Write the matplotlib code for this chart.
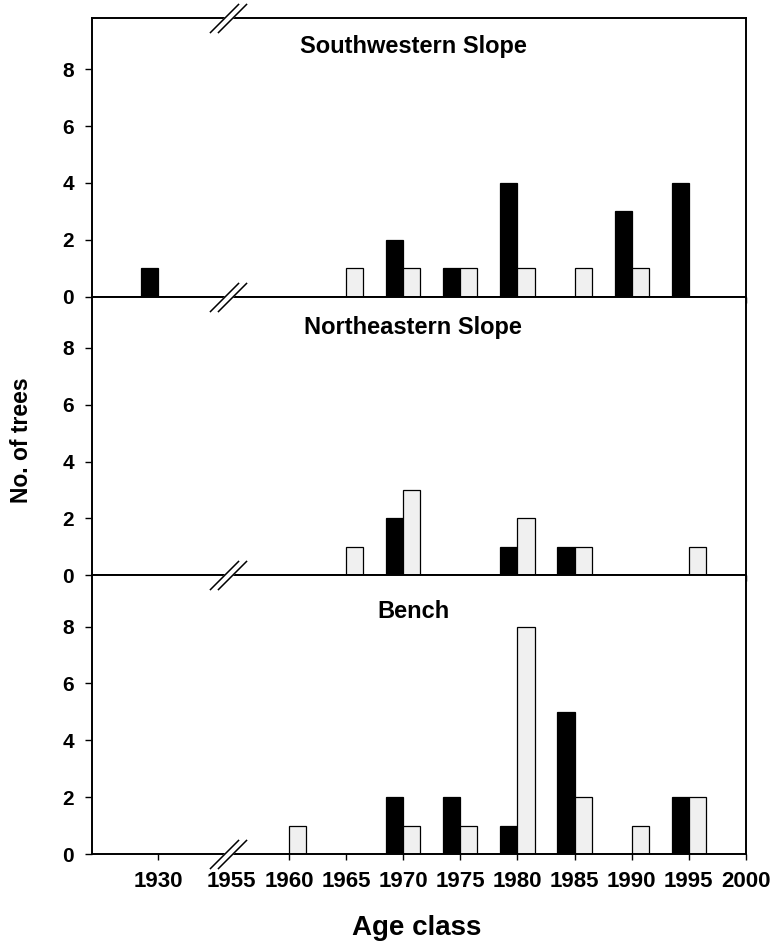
import matplotlib
matplotlib.use("Agg")
import matplotlib.pyplot as plt

plt.rcParams['font.family'] = ['Liberation Sans', 'DejaVu Sans']
plt.rcParams['font.weight'] = 'bold'

# ---- data ----
years = [1930, 1960, 1965, 1970, 1975, 1980, 1985, 1990, 1995]
sw_black = [1, 0, 0, 2, 1, 4, 0, 3, 4]
sw_light = [0, 0, 1, 1, 1, 1, 1, 1, 0]
ne_black = [0, 0, 0, 2, 0, 1, 1, 0, 0]
ne_light = [0, 0, 1, 3, 0, 2, 1, 0, 1]
be_black = [0, 0, 0, 2, 2, 1, 5, 0, 2]
be_light = [0, 1, 0, 1, 1, 8, 2, 1, 2]
panel_titles = ["Southwestern Slope", "Northeastern Slope", "Bench"]
tick_years = [1930, 1955, 1960, 1965, 1970, 1975, 1980, 1985, 1990, 1995, 2000]
y_ticks = [0, 2, 4, 6, 8]

BREAK = 1955
COMPRESS = 0.2584   # axis compression left of the break


def pos(y):
    return y if y >= BREAK else BREAK - (BREAK - y) * COMPRESS


BAR_W = 1.5
XLIM = (1942.76, 2000.0)
YLIM = (0, 9.8)

fig = plt.figure(figsize=(7.75, 9.49), dpi=100)
left, width = 92 / 775, 654 / 775
bottom_all, top_all = 1 - 854 / 949, 1 - 18 / 949
ph = (top_all - bottom_all) / 3

series = [(sw_black, sw_light), (ne_black, ne_light), (be_black, be_light)]
title_y = [0.875, 0.867, 0.848]
axes = []
for i, (blk, lgt) in enumerate(series):
    ax = fig.add_axes([left, top_all - (i + 1) * ph, width, ph])
    axes.append(ax)
    xs = [pos(y) for y in years]
    ax.bar([x - BAR_W / 2 for x in xs], blk, width=BAR_W, color='black',
           edgecolor='black', linewidth=0.9, zorder=2)
    ax.bar([x + BAR_W / 2 for x in xs], lgt, width=BAR_W, color='#f0f0f0',
           edgecolor='black', linewidth=0.9, zorder=2)
    ax.set_xlim(*XLIM)
    ax.set_ylim(*YLIM)
    ax.set_yticks(y_ticks)
    ax.set_yticklabels([str(t) for t in y_ticks], fontsize=15, fontweight='bold')
    ax.set_xticks([pos(t) for t in tick_years])
    if i == 2:
        ax.set_xticklabels([str(t) for t in tick_years], fontsize=16, fontweight='bold')
    else:
        ax.set_xticklabels([])
    ax.tick_params(axis='y', direction='out', length=5, width=1.0, pad=8, left=True, right=False)
    ax.tick_params(axis='x', direction='out', length=4.5, width=1.0, pad=8, bottom=True, top=False)
    ax.xaxis.get_major_ticks()[1].tick1line.set_visible(False)
    for s in ax.spines.values():
        s.set_linewidth(1.4)
    ax.text(0.491, title_y[i], panel_titles[i], transform=ax.transAxes,
            ha='center', va='baseline', fontsize=17, fontweight='bold')


def draw_break(ax, yfrac):
    tr = ax.get_xaxis_transform()
    slash = [(-1, -1), (1, 1)]
    xc = BREAK - 0.35
    ax.plot([xc], [yfrac], marker=slash, ms=21, mew=5, mec='white',
            transform=tr, clip_on=False, zorder=10, linestyle='none')
    for dx in (-0.36, 0.36):
        ax.plot([xc + dx], [yfrac], marker=slash, ms=21, mew=1.1, mec='black',
                transform=tr, clip_on=False, zorder=11, linestyle='none')


draw_break(axes[0], 1.0)
draw_break(axes[1], 1.0)
draw_break(axes[2], 1.0)
draw_break(axes[2], 0.0)

fig.text(22 / 775, 1 - 440 / 949, "No. of trees", rotation=90, ha='center',
         va='center', fontsize=16.5, fontweight='bold')
fig.text(417 / 775, 1 - 935 / 949, "Age class", ha='center', va='baseline',
         fontsize=20, fontweight='bold')

fig.savefig("out.png", dpi=100)
